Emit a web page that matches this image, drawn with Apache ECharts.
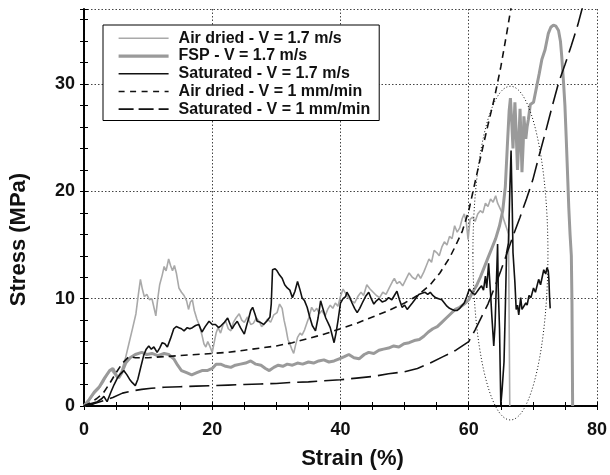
<!DOCTYPE html>
<html>
<head>
<meta charset="utf-8">
<script src="https://cdn.jsdelivr.net/npm/echarts@6/dist/echarts.min.js"></script>
<style>
  html, body { margin: 0; padding: 0; background: #fff; }
  #chart { width: 610px; height: 475px; }
</style>
</head>
<body>
<div id="chart"></div>
<script>
// Stress–strain curves: [strain %, stress MPa]
const airDriedFast = [[0,0],[0.8,0.5],[1.5,1.1],[2.3,1.6],[3.0,2.2],[3.6,2.9],[4.2,3.4],[4.7,3.0],[5.2,2.6],[5.8,3.2],[6.4,4.3],[7.0,5.8],[7.6,7.3],[8.1,8.6],[8.5,10.5],[8.8,11.8],[9.1,10.9],[9.4,10.2],[9.8,10.4],[10.2,9.9],[10.6,10.0],[10.9,9.2],[11.2,8.4],[11.5,10.0],[11.8,11.3],[12.2,12.2],[12.5,13.0],[12.8,12.6],[13.2,13.7],[13.5,13.1],[13.8,12.6],[14.1,13.1],[14.4,12.4],[14.8,11.0],[15.2,10.6],[15.6,10.3],[16.0,9.8],[16.3,9.0],[16.6,9.7],[16.9,9.9],[17.2,8.9],[17.6,8.1],[18.0,7.5],[18.4,6.6],[18.7,5.8],[19.0,5.5],[19.3,6.0],[19.6,5.6],[20.0,5.0],[20.3,5.9],[20.6,6.8],[20.9,7.3],[21.3,6.8],[21.7,7.6],[22.1,7.9],[22.5,7.2],[22.9,7.0],[23.3,7.8],[23.7,8.2],[24.2,8.6],[24.6,8.0],[25.0,7.8],[25.5,8.3],[26.0,7.6],[26.4,7.7],[26.9,8.2],[27.3,7.9],[27.7,7.4],[28.1,7.6],[28.6,8.1],[29.1,7.8],[29.6,8.5],[30.1,8.7],[30.5,9.5],[30.9,9.1],[31.2,8.0],[31.5,7.2],[31.8,6.2],[32.1,5.8],[32.4,5.3],[32.7,4.9],[33.0,5.7],[33.3,6.4],[33.7,6.8],[34.0,6.6],[34.4,7.1],[34.8,7.8],[35.1,8.3],[35.5,9.2],[35.9,8.8],[36.3,9.1],[36.7,8.6],[37.1,8.9],[37.6,8.4],[38.0,9.0],[38.4,9.4],[38.8,9.1],[39.2,9.6],[39.6,9.3],[40.0,10.2],[40.4,10.9],[40.8,10.5],[41.2,10.1],[41.7,9.8],[42.2,9.6],[42.7,10.2],[43.2,10.6],[43.6,10.3],[44.1,11.3],[44.6,10.9],[45.1,10.6],[45.6,10.3],[46.1,10.1],[46.6,10.6],[47.1,10.4],[47.6,11.0],[48.1,11.6],[48.4,11.9],[48.8,11.4],[49.2,11.6],[49.7,11.2],[50.2,11.8],[50.7,12.4],[51.2,12.0],[51.7,11.8],[52.1,12.3],[52.5,11.9],[53.0,12.5],[53.4,13.1],[53.8,13.7],[54.2,13.4],[54.6,14.5],[55.0,14.3],[55.4,14.0],[55.8,14.8],[56.2,15.3],[56.6,15.0],[57.0,15.8],[57.4,15.6],[57.8,16.8],[58.2,16.2],[58.6,16.6],[59.0,17.5],[59.3,17.9],[59.6,17.2],[59.9,15.5],[60.2,17.4],[60.6,17.6],[61.0,17.2],[61.4,17.9],[61.8,18.2],[62.2,18.0],[62.6,18.9],[63.0,18.6],[63.4,19.3],[63.8,19.0],[64.2,19.6],[64.5,18.9],[64.9,18.4],[65.2,18.0],[65.5,17.3],[65.9,16.6],[66.2,16.0],[66.4,0]];

const fspFast = [[0,0],[0.8,0.6],[1.6,1.3],[2.4,1.8],[3.2,2.6],[4.0,3.3],[4.5,3.5],[5.0,2.9],[5.4,2.6],[5.9,3.1],[6.5,4.0],[7.2,4.5],[8.0,4.8],[9.0,5.0],[9.8,4.8],[10.6,4.9],[11.5,4.7],[12.5,4.9],[13.2,4.8],[14.0,4.4],[14.6,3.8],[15.2,3.3],[16.0,3.1],[16.8,2.9],[17.6,3.1],[18.4,3.3],[19.2,3.3],[20.0,3.5],[20.6,3.9],[21.3,3.9],[22.1,3.7],[22.9,3.6],[23.6,3.8],[24.4,3.9],[25.2,4.0],[26.0,4.2],[26.8,3.9],[27.6,3.8],[28.3,3.5],[28.9,3.3],[29.6,3.6],[30.3,3.8],[31.0,3.7],[31.7,3.9],[32.5,3.8],[33.3,4.0],[34.1,3.9],[35.0,4.1],[35.8,4.0],[36.6,4.2],[37.4,4.3],[38.2,4.1],[39.0,4.2],[39.8,4.4],[40.6,4.6],[41.3,4.8],[42.1,4.5],[42.9,4.4],[43.7,4.8],[44.4,5.0],[45.2,4.9],[46.0,5.2],[46.7,5.3],[47.5,5.4],[48.3,5.6],[49.1,5.5],[49.9,5.8],[50.7,5.9],[51.5,6.1],[52.3,6.2],[53.0,6.5],[53.7,6.9],[54.4,7.2],[55.1,7.4],[55.8,7.8],[56.5,8.2],[57.2,8.6],[57.9,9.0],[58.6,9.2],[59.3,9.5],[60.0,9.9],[60.6,10.6],[61.2,11.2],[61.8,12.0],[62.4,12.9],[63.0,13.8],[63.6,14.7],[64.2,15.6],[64.8,16.8],[65.3,18.2],[65.7,20.4],[66.0,24.0],[66.3,27.5],[66.5,28.7],[66.7,26.5],[66.9,24.0],[67.0,25.5],[67.2,28.3],[67.4,25.5],[67.6,22.0],[67.8,24.5],[68.0,27.7],[68.2,24.0],[68.3,21.8],[68.5,24.5],[68.6,27.0],[68.8,25.5],[68.9,24.9],[69.1,26.0],[69.3,26.7],[69.6,28.1],[70.1,28.3],[70.6,29.8],[71.0,31.0],[71.4,32.3],[71.9,33.2],[72.4,34.7],[72.8,35.3],[73.2,35.5],[73.6,35.4],[74.0,35.0],[74.3,34.0],[74.5,32.6],[74.8,30.0],[75.0,28.0],[75.2,25.0],[75.4,21.8],[75.6,18.5],[75.8,16.0],[76.0,14.0],[76.1,9.5],[76.2,0]];

const saturatedFast = [[0,0],[1.0,0.2],[2.1,0.4],[2.8,0.7],[3.1,0.9],[3.4,0.6],[3.6,0.4],[4.2,1.3],[4.7,2.0],[5.2,2.6],[5.7,3.0],[6.2,3.3],[6.7,2.9],[7.1,2.5],[7.5,2.2],[8.0,1.9],[8.4,2.5],[8.8,3.5],[9.3,4.7],[9.7,5.3],[10.1,5.6],[10.5,5.3],[10.9,5.5],[11.4,5.0],[11.8,5.4],[12.2,5.9],[12.6,5.8],[13.0,5.5],[13.5,6.3],[14.0,7.2],[14.4,7.4],[14.8,7.3],[15.2,7.2],[15.6,7.0],[16.1,7.3],[16.5,7.2],[16.9,7.3],[17.4,7.5],[17.9,7.6],[18.4,6.9],[18.9,7.4],[19.5,7.9],[20.0,7.6],[20.5,7.6],[21.0,7.3],[21.4,7.5],[21.9,7.8],[22.4,8.2],[22.8,7.6],[23.1,7.2],[23.5,7.6],[23.9,7.9],[24.4,7.3],[25.0,6.7],[25.4,7.6],[25.7,8.2],[26.0,8.9],[26.3,9.2],[26.7,8.5],[27.0,7.9],[27.5,7.8],[28.0,7.6],[28.5,7.9],[29.0,8.3],[29.2,9.5],[29.4,12.7],[29.8,12.8],[30.1,12.6],[30.5,12.2],[30.9,11.9],[31.3,11.3],[31.7,11.0],[32.1,10.8],[32.5,10.1],[32.9,10.7],[33.3,11.6],[33.7,10.8],[34.0,10.1],[34.4,9.8],[34.8,9.2],[35.2,8.3],[35.6,7.5],[36.1,7.0],[36.5,8.2],[36.9,9.8],[37.3,9.0],[37.7,8.2],[38.1,7.7],[38.4,7.3],[38.7,6.6],[39.0,5.9],[39.3,6.8],[39.6,7.9],[40.0,9.6],[40.4,10.0],[40.8,10.2],[41.0,10.6],[41.4,10.2],[41.8,9.6],[42.2,9.1],[42.6,8.7],[43.0,9.1],[43.4,9.6],[43.9,10.2],[44.4,10.6],[44.8,10.0],[45.2,9.5],[45.6,9.8],[46.0,10.0],[46.5,9.7],[47.0,9.8],[47.5,10.1],[48.0,9.9],[48.4,10.3],[48.8,10.7],[49.2,9.9],[49.6,9.2],[50.0,9.4],[50.4,9.0],[50.8,9.3],[51.2,9.6],[51.7,10.0],[52.2,10.4],[52.7,10.5],[53.2,10.6],[53.6,10.4],[54.0,10.6],[54.4,10.3],[54.8,10.1],[55.3,10.0],[55.8,9.9],[56.2,9.6],[56.6,9.3],[57.0,9.1],[57.4,9.0],[57.8,8.9],[58.2,8.9],[58.6,9.1],[58.9,9.2],[59.3,9.6],[59.7,10.2],[60.1,10.9],[60.6,10.5],[61.0,10.4],[61.3,10.3],[61.7,11.0],[62.0,11.2],[62.3,10.8],[62.6,12.1],[62.8,11.0],[63.1,13.3],[63.4,10.5],[63.6,8.4],[63.9,5.6],[64.1,7.5],[64.3,11.2],[64.5,15.1],[64.6,11.0],[64.8,7.2],[65.0,0.1],[65.2,1.5],[65.5,4.1],[65.7,9.0],[65.9,14.3],[66.2,15.2],[66.4,20.0],[66.6,23.8],[66.8,18.0],[66.9,14.3],[67.2,11.5],[67.4,9.0],[67.6,9.4],[67.8,8.5],[68.1,10.1],[68.3,9.0],[68.6,8.9],[68.9,9.6],[69.1,9.4],[69.4,10.3],[69.7,10.1],[70.1,11.0],[70.4,10.6],[70.9,11.8],[71.2,11.3],[71.7,12.7],[72.0,12.3],[72.2,12.9],[72.4,12.6],[72.5,11.8],[72.6,10.2],[72.7,9.1]];

const airDriedSlow = [[0,0],[1,0.3],[2,0.7],[3,1.2],[4,2.1],[5,3.1],[6,4.0],[7,4.6],[8,4.5],[10,4.5],[12.5,4.6],[15,4.7],[17.5,4.8],[20,4.9],[22.5,5.0],[25,5.2],[27.5,5.4],[30,5.6],[32.5,5.9],[35,6.3],[37.5,6.7],[40,7.2],[42.5,7.7],[45,8.3],[47.5,8.9],[50,9.6],[52,10.3],[54,11.3],[55.5,12.4],[57,13.8],[58,15.0],[59,16.3],[60,18.2],[61,20.9],[62,23.6],[63,26.2],[64,28.7],[65,31.6],[66,35.0],[66.7,37.5]];

const saturatedSlow = [[0,0],[1.5,0.2],[3,0.5],[4.5,0.8],[6,1.2],[7.5,1.4],[9,1.55],[10.5,1.65],[12.5,1.75],[15,1.8],[17.5,1.85],[20,1.9],[22.5,1.95],[25,2.0],[27.5,2.05],[30,2.1],[32.5,2.2],[35,2.25],[37.5,2.35],[40,2.45],[42.5,2.6],[45,2.75],[47.5,3.0],[50,3.2],[52,3.5],[54,4.0],[56,4.6],[58,5.2],[60,6.0],[61,7.1],[62,8.3],[63,9.5],[64,11.0],[65,12.6],[66,14.3],[67,16.0],[68,17.6],[69,19.3],[70,21.1],[71,23.4],[72,25.6],[73,27.9],[74,30.1],[75,31.8],[76,33.6],[77,35.5],[77.8,37.3]];

// Highlighted unstable region: [centre strain, centre stress, half-width, half-height]
const failureZone = [[66.5, 14.25, 5.85, 15.55]];

const seriesNames = [
  'Air dried - V = 1.7 m/s',
  'FSP - V = 1.7 m/s',
  'Saturated - V = 1.7 m/s',
  'Air dried - V = 1 mm/min',
  'Saturated - V = 1 mm/min'
];

const xRange = [0, 80];
const yRange = [0, 37];

const FONT = 'Liberation Sans, Arial, Helvetica, sans-serif';
const gridDots = { color: '#444', width: 1, type: [1.5, 2] };
const shortDash = [7, 5];
const longDash = [20, 7];

const chart = echarts.init(document.getElementById('chart'), null, { renderer: 'canvas' });

function tickAxis(pos, interval, range) {
  return {
    type: 'value', position: pos, min: range[0], max: range[1], interval: interval,
    axisLine: { show: true, lineStyle: { color: '#000', width: 1.5 } },
    axisTick: { show: true, inside: true, length: 4, lineStyle: { color: '#000', width: 1 } },
    axisLabel: { show: false }, splitLine: { show: false }
  };
}

function lineSeries(name, data, color, width, dash) {
  return {
    name: name, type: 'line', data: data, xAxisIndex: 0, yAxisIndex: 0,
    symbol: 'none', showSymbol: false, smooth: false,
    lineStyle: { color: color, width: width, type: dash || 'solid' },
    itemStyle: { color: color },
    emphasis: { disabled: true }
  };
}

chart.setOption({
  animation: false,
  backgroundColor: '#fff',
  grid: { left: 83, right: 12, top: 9, bottom: 64, containLabel: false },
  legend: {
    orient: 'vertical', left: 103, top: 25,
    data: [
      { name: seriesNames[0], lineStyle: { width: 1.5 } },
      { name: seriesNames[1], lineStyle: { width: 3.2 } },
      { name: seriesNames[2], lineStyle: { width: 1.6 } },
      { name: seriesNames[3], lineStyle: { width: 1.6, type: [6, 5.5] } },
      { name: seriesNames[4], lineStyle: { width: 1.6, type: [15, 5] } }
    ],
    selectedMode: false,
    itemWidth: 50, itemHeight: 12, itemGap: 0,
    padding: [4.5, 9, 2.5, 14],
    borderColor: '#000', borderWidth: 1, backgroundColor: '#fff',
    itemStyle: { opacity: 0 },
    textStyle: { fontFamily: FONT, fontWeight: 'bold', fontSize: 16, color: '#111',
                 lineHeight: 17.7, padding: [0, 0, 0, 5] }
  },
  xAxis: [
    {
      type: 'value', position: 'bottom', min: xRange[0], max: xRange[1], interval: 20,
      name: 'Strain (%)', nameLocation: 'middle', nameGap: 42,
      nameTextStyle: { fontFamily: FONT, fontWeight: 'bold', fontSize: 22, color: '#111', padding: [0, 0, 0, 24] },
      axisLine: { show: true, lineStyle: { color: '#000', width: 1.5 } },
      axisTick: { show: false },
      axisLabel: { fontFamily: FONT, fontWeight: 'bold', fontSize: 18, color: '#111', margin: 15 },
      splitLine: { show: true, lineStyle: gridDots }
    },
    tickAxis('bottom', 5, xRange),
    tickAxis('top', 5, xRange)
  ],
  yAxis: [
    {
      type: 'value', position: 'left', min: yRange[0], max: yRange[1], interval: 10,
      name: 'Stress (MPa)', nameLocation: 'middle', nameGap: 54,
      nameTextStyle: { fontFamily: FONT, fontWeight: 'bold', fontSize: 22, color: '#111', padding: [0, 64, 0, 0] },
      axisLine: { show: true, lineStyle: { color: '#000', width: 1.5 } },
      axisTick: { show: false },
      axisLabel: { fontFamily: FONT, fontWeight: 'bold', fontSize: 18, color: '#111', margin: 9,
                   formatter: function (v) { return v % 10 === 0 ? String(v) : ''; } },
      splitLine: { show: true, lineStyle: gridDots }
    },
    tickAxis('left', 2, yRange),
    tickAxis('right', 2, yRange)
  ],
  series: [
    lineSeries(seriesNames[0], airDriedFast, '#a9a9a9', 1.6),
    lineSeries(seriesNames[1], fspFast, '#9a9a9a', 3),
    lineSeries(seriesNames[2], saturatedFast, '#111', 1.6),
    lineSeries(seriesNames[3], airDriedSlow, '#111', 1.6, shortDash),
    lineSeries(seriesNames[4], saturatedSlow, '#111', 1.6, longDash),
    {
      name: 'zone', type: 'custom', data: failureZone, xAxisIndex: 0, yAxisIndex: 0,
      silent: true, clip: false, z: 5,
      encode: { x: 0, y: 1 },
      renderItem: function (params, api) {
        const c = api.coord([api.value(0), api.value(1)]);
        const s = api.size([api.value(2), api.value(3)]);
        return {
          type: 'ellipse',
          shape: { cx: c[0], cy: c[1], rx: s[0], ry: s[1] },
          style: { fill: null, stroke: '#111', lineWidth: 1, lineDash: [1, 2.2] }
        };
      }
    }
  ]
});
</script>
</body>
</html>
